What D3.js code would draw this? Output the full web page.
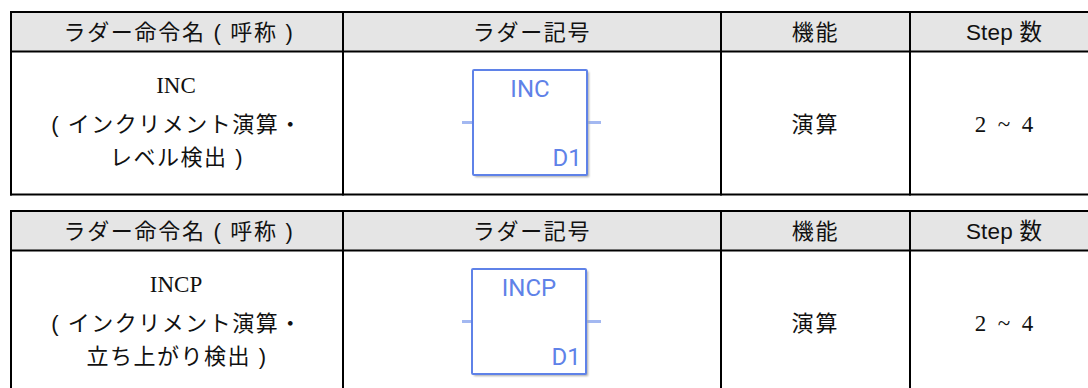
<!DOCTYPE html>
<html>
<head>
<meta charset="utf-8">
<script src="https://cdnjs.cloudflare.com/ajax/libs/d3/7.8.5/d3.min.js"></script>
<style>
html, body { margin: 0; padding: 0; background: #fff; overflow: hidden; }
</style>
</head>
<body>
<script>
var headers = ["ラダー命令名 ( 呼称 )", "ラダー記号", "機能", "Step 数"];
var names = ["INC", "INCP"];
var nameLines1 = ["( インクリメント演算・", "( インクリメント演算・"];
var nameLines2 = ["レベル検出 )", "立ち上がり検出 )"];
var funcs = ["演算", "演算"];
var steps = ["2\u00a0\u00a0~\u00a0\u00a04", "2\u00a0\u00a0~\u00a0\u00a04"];
var tops = [12, 211];
var boxLeft = [473, 472];

var width = 1088, height = 388;
// last column runs off the right of the picture
var colX = [11, 343, 721, 910, 1098];
var headH = 39.5, rowH = 143;
var jp = "'Liberation Sans','Noto Sans CJK JP',sans-serif";
var serif = "'Liberation Serif',serif";
var blue = "#5f82e8", ltBlue = "#a3b8f1";

var svg = d3.select("body").append("svg")
    .attr("width", width).attr("height", height)
    .style("display", "block");

var defs = svg.append("defs");
defs.append("filter").attr("id", "soft")
    .append("feGaussianBlur").attr("stdDeviation", 0.9);

function txt(g, s, x, y, size, fam, sp) {
    return g.append("text").text(s)
        .attr("x", x).attr("y", y)
        .attr("text-anchor", "middle")
        .attr("font-family", fam)
        .attr("font-size", size)
        .attr("letter-spacing", sp || 0)
        .attr("fill", "#111");
}

function symbol(g, t, label, x0) {
    var bt = t + 58, bw = 114, bh = 105, my = bt + bh / 2;
    g.append("line").attr("x1", 462).attr("x2", x0)
        .attr("y1", my).attr("y2", my)
        .attr("stroke", ltBlue).attr("stroke-width", 3);
    g.append("line").attr("x1", x0 + bw).attr("x2", 601)
        .attr("y1", my).attr("y2", my)
        .attr("stroke", ltBlue).attr("stroke-width", 3);
    g.append("rect").attr("x", x0 + 2).attr("y", bt + 2)
        .attr("width", bw).attr("height", bh)
        .attr("fill", "#a8a8a8").attr("filter", "url(#soft)");
    g.append("rect").attr("x", x0).attr("y", bt)
        .attr("width", bw).attr("height", bh)
        .attr("fill", "#fff").attr("stroke", blue).attr("stroke-width", 2)
        .attr("rx", 1);
    txt(g, label, x0 + 57, bt + 27, 24, "Roboto,sans-serif")
        .attr("fill", blue).attr("font-weight", 400);
    txt(g, "D1", x0 + 94, bt + bh - 9, 24, "Roboto,sans-serif")
        .attr("fill", blue).attr("font-weight", 400);
}

names.forEach(function(nm, i) {
    var t = tops[i];
    var g = svg.append("g");
    var headBottom = t + headH;
    var bottom = headBottom + rowH;

    g.append("rect").attr("x", colX[0]).attr("y", t)
        .attr("width", colX[4] - colX[0]).attr("height", headH)
        .attr("fill", "#e5e5e5");

    g.selectAll("text.head").data(d3.range(headers.length)).enter().append("text")
        .attr("class", "head")
        .text(function(d) { return headers[d]; })
        .attr("x", function(d) { return (colX[d] + colX[d + 1]) / 2 + (d == 0 ? 2 : 0); })
        .attr("y", t + 28)
        .attr("text-anchor", "middle")
        .attr("font-family", jp)
        .attr("font-size", function(d) { return d == 3 ? 22.5 : 22; })
        .attr("letter-spacing", function(d) { return d == 3 ? 0.2 : 1.7; })
        .attr("fill", "#111");

    var mid = (colX[0] + colX[1]) / 2;
    txt(g, nm, mid - 1, headBottom + 41, 23, serif);
    txt(g, nameLines1[i], mid, headBottom + 80, 22, jp, 1.5);
    txt(g, nameLines2[i], mid, headBottom + 113, 22, jp, 1.5);
    txt(g, funcs[i], (colX[2] + colX[3]) / 2, headBottom + 80, 22, jp, 2);
    txt(g, steps[i], (colX[3] + colX[4]) / 2, headBottom + 80, 23, serif);

    symbol(g, t, nm, boxLeft[i]);

    // rules
    var lineY = [t, headBottom].concat(i == 0 ? [bottom] : []);
    g.selectAll("line.h").data(lineY).enter().append("line")
        .attr("class", "h")
        .attr("x1", colX[0] - 1).attr("x2", colX[4] + 1)
        .attr("y1", function(d) { return d; }).attr("y2", function(d) { return d; })
        .attr("stroke", "#000").attr("stroke-width", 2);
    g.selectAll("line.v").data(colX).enter().append("line")
        .attr("class", "v")
        .attr("x1", function(d) { return d; }).attr("x2", function(d) { return d; })
        .attr("y1", t - 1).attr("y2", Math.min(bottom + 1, height))
        .attr("stroke", "#000").attr("stroke-width", 2);
});
</script>
</body>
</html>
